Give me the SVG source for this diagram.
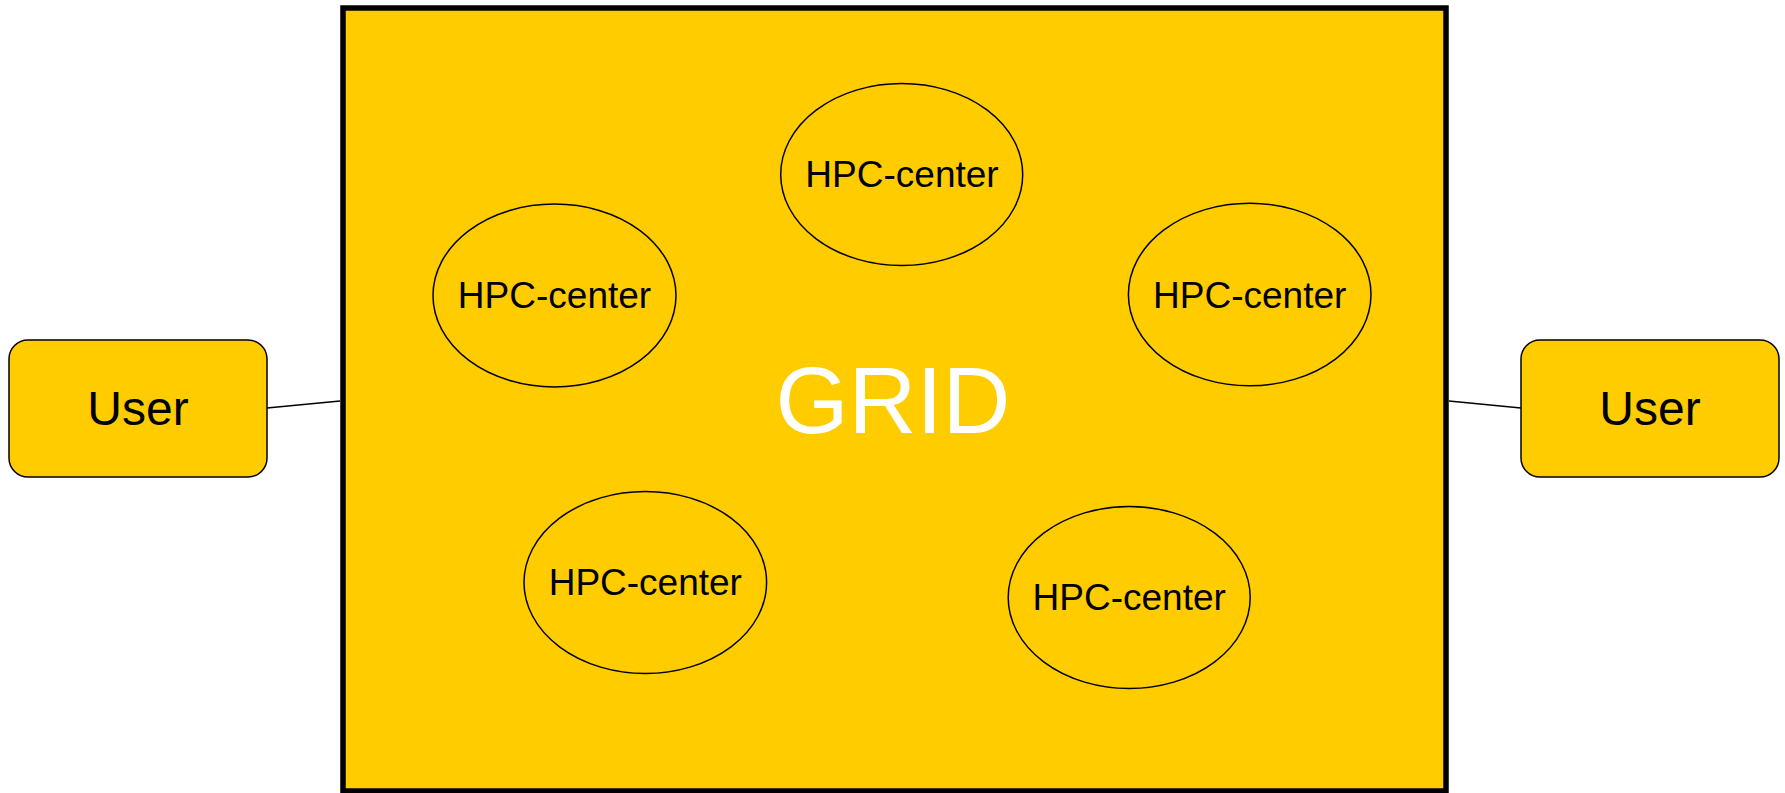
<svg xmlns="http://www.w3.org/2000/svg" width="1785" height="793" viewBox="0 0 1785 793">
<style>
.box{fill:#FFCC00;stroke:#000;stroke-width:1.5}
.hpc{fill:#FFCC00;stroke:#000;stroke-width:1.5}
.lbl{font-family:"Liberation Sans",Arial,sans-serif;fill:#000;text-anchor:middle}
.conn{stroke:#000;stroke-width:1.5;fill:none}
</style>
<rect width="1785" height="793" fill="#fff"/>
<g id="grid">
<rect x="343" y="8" width="1103" height="783" fill="#FFCC00" stroke="#000" stroke-width="5.5"/>
<text x="893" y="433" class="lbl" style="fill:#fff;font-size:94px">GRID</text>
</g>
<g id="connectors">
<line class="conn" x1="267" y1="408" x2="340" y2="401"/>
<line class="conn" x1="1449" y1="401" x2="1521" y2="408"/>
</g>
<g id="user-left">
<rect class="box" x="9" y="340" width="258" height="137" rx="19"/>
<text x="138" y="425" class="lbl" style="font-size:48px">User</text>
</g>
<g id="user-right">
<rect class="box" x="1521" y="340" width="258" height="137" rx="19"/>
<text x="1650" y="425" class="lbl" style="font-size:48px">User</text>
</g>
<g id="hpc-top">
<ellipse class="hpc" cx="901.7" cy="174.5" rx="121" ry="91"/>
<text x="902" y="187" class="lbl" style="font-size:37px">HPC-center</text>
</g>
<g id="hpc-left">
<ellipse class="hpc" cx="554.5" cy="295.5" rx="121.5" ry="91.5"/>
<text x="554.5" y="308" class="lbl" style="font-size:37px">HPC-center</text>
</g>
<g id="hpc-right">
<ellipse class="hpc" cx="1249.7" cy="294.5" rx="121.3" ry="91.3"/>
<text x="1249.7" y="307.5" class="lbl" style="font-size:37px">HPC-center</text>
</g>
<g id="hpc-bottom-left">
<ellipse class="hpc" cx="645.3" cy="582.5" rx="121.3" ry="91"/>
<text x="645.3" y="595" class="lbl" style="font-size:37px">HPC-center</text>
</g>
<g id="hpc-bottom-right">
<ellipse class="hpc" cx="1129.2" cy="597.5" rx="121" ry="91"/>
<text x="1129.2" y="610" class="lbl" style="font-size:37px">HPC-center</text>
</g>
</svg>
